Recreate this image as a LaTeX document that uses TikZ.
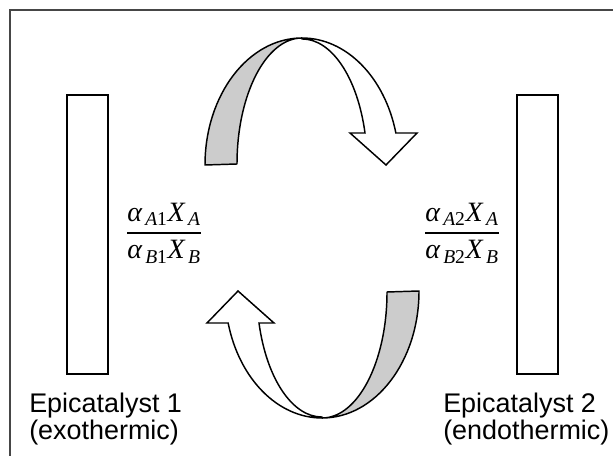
\documentclass[tikz,border=0pt]{standalone}
\usepackage{amsmath}
\usepackage{fontspec}
\setmainfont{Liberation Sans}
\newfontfamily\tms{Liberation Serif}
\newcommand{\ti}[1]{\text{\tms\itshape #1}}
\newcommand{\tu}[1]{\text{\tms #1}}
\usetikzlibrary{positioning}
\definecolor{framegrey}{RGB}{70,70,70}
\definecolor{bandgrey}{RGB}{204,204,204}
\tikzset{
  catbox/.style={draw=black,line width=1.6pt,minimum width=31pt,minimum height=209pt,inner sep=0pt},
  lab/.style={font=\fontsize{20.2}{20.5}\selectfont,align=left,inner sep=0pt},
  ratio/.style={font=\fontsize{21}{24}\selectfont,inner sep=0pt},
  bandg/.style={draw=black,line width=1.1pt,fill=bandgrey,line join=round},
  bandw/.style={draw=black,line width=1.1pt,fill=white,line join=miter}
}
% one half-turn of the cycle: grey back, white front with head
\newcommand{\halfturn}{%
  \draw[bandw] (302,418) arc[start angle=90,end angle=14.6,x radius=97,y radius=127]
    -- (417,323) -- (386,291) -- (350,323) -- (365,323)
    arc[start angle=14.7,end angle=90,x radius=65,y radius=126] -- cycle;
  \draw[bandg] (205,291) arc[start angle=180,end angle=90,x radius=97,y radius=127]
    arc[start angle=90,end angle=180,x radius=65,y radius=126] -- cycle;
}
\begin{document}
\begin{tikzpicture}[x=0.75pt,y=0.75pt]
  \useasboundingbox (0,0) rectangle (613,456);
  \draw[framegrey,line width=1.6pt] (10,0) -- (10,446) -- (613,446);
  \node[catbox] (cat1) at (87.5,221.5) {};
  \node[catbox] (cat2) at (537.5,221.5) {};
  \node[ratio] (frac1) at (164,223)
    {$\dfrac{\ti{α}_{\,\ti{A}\tu{1}}\ti{X}_{\,\ti{A}}}{\ti{α}_{\,\ti{B}\tu{1}}\ti{X}_{\,\ti{B}}}$};
  \node[ratio] (frac2) at (462,223)
    {$\dfrac{\ti{α}_{\,\ti{A}\tu{2}}\ti{X}_{\,\ti{A}}}{\ti{α}_{\,\ti{B}\tu{2}}\ti{X}_{\,\ti{B}}}$};
  \node[lab,anchor=base west] (lab1) at (29,16) {Epicatalyst 1\\(exothermic)};
  \node[lab,anchor=base west] (lab2) at (443,16) {Epicatalyst 2\\(endothermic)};
  \halfturn
  \begin{scope}[rotate around={180:(312,228)}]
    \halfturn
  \end{scope}
\end{tikzpicture}
\end{document}
